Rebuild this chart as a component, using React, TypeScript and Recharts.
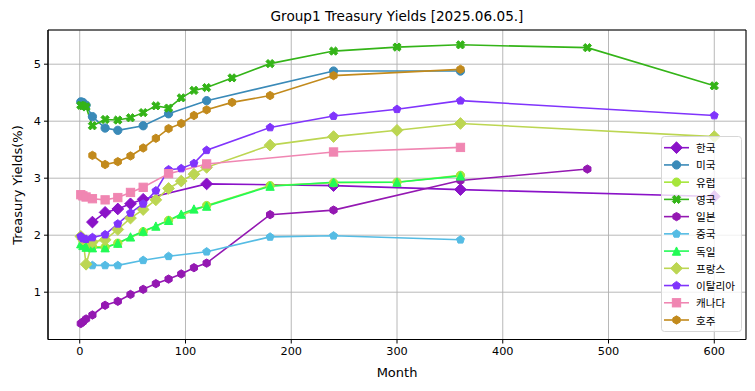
import React from "react"
import { LineChart, Line, XAxis, YAxis, CartesianGrid, ReferenceArea } from "recharts"

// tenor in months / yield in %
const KR_MONTHS = [12, 24, 36, 48, 60, 120, 240, 360, 600]
const KR_YIELDS = [2.23, 2.4, 2.46, 2.55, 2.63, 2.9, 2.87, 2.8, 2.68]

const US_MONTHS = [1, 3, 6, 12, 24, 36, 60, 84, 120, 240, 360]
const US_YIELDS = [4.34, 4.33, 4.28, 4.08, 3.88, 3.84, 3.92, 4.13, 4.36, 4.88, 4.88]

const EU_MONTHS = [3, 6, 12, 24, 36, 60, 84, 120, 180, 240, 300, 360]
const EU_YIELDS = [1.9, 1.84, 1.8, 1.79, 1.86, 2.06, 2.26, 2.52, 2.87, 2.92, 2.93, 3.05]

const UK_MONTHS = [1, 3, 6, 12, 24, 36, 48, 60, 72, 84, 96, 108, 120, 144, 180, 240, 300, 360, 480, 600]
const UK_YIELDS = [4.28, 4.27, 4.25, 3.92, 4.03, 4.02, 4.06, 4.15, 4.27, 4.23, 4.41, 4.54, 4.59, 4.76, 5.01, 5.23, 5.3, 5.34, 5.29, 4.62]

const JP_MONTHS = [1, 3, 6, 12, 24, 36, 48, 60, 72, 84, 96, 108, 120, 180, 240, 360, 480]
const JP_YIELDS = [0.45, 0.48, 0.53, 0.6, 0.77, 0.84, 0.96, 1.05, 1.15, 1.23, 1.32, 1.43, 1.51, 2.36, 2.44, 2.96, 3.16]

const CN_MONTHS = [12, 24, 36, 60, 84, 120, 180, 240, 360]
const CN_YIELDS = [1.47, 1.47, 1.47, 1.56, 1.63, 1.71, 1.97, 1.99, 1.92]

const DE_MONTHS = [1, 3, 6, 12, 24, 36, 48, 60, 72, 84, 96, 108, 120, 180, 240, 300, 360]
const DE_YIELDS = [1.85, 1.82, 1.79, 1.78, 1.78, 1.86, 1.97, 2.07, 2.16, 2.26, 2.37, 2.46, 2.51, 2.86, 2.93, 2.93, 3.04]

const FR_MONTHS = [1, 3, 6, 12, 24, 36, 48, 60, 72, 84, 96, 108, 120, 180, 240, 300, 360, 600]
const FR_YIELDS = [1.98, 1.93, 1.49, 1.88, 1.92, 2.1, 2.3, 2.45, 2.62, 2.82, 2.95, 3.07, 3.19, 3.58, 3.73, 3.84, 3.96, 3.73]

const IT_MONTHS = [1, 3, 6, 12, 24, 36, 48, 60, 72, 84, 96, 108, 120, 180, 240, 300, 360, 600]
const IT_YIELDS = [1.98, 1.94, 1.93, 1.96, 2.01, 2.2, 2.39, 2.55, 2.78, 3.15, 3.17, 3.26, 3.49, 3.89, 4.09, 4.21, 4.36, 4.1]

const CA_MONTHS = [1, 3, 6, 12, 24, 36, 48, 60, 84, 120, 240, 360]
const CA_YIELDS = [2.71, 2.69, 2.67, 2.64, 2.62, 2.66, 2.75, 2.84, 3.08, 3.25, 3.46, 3.54]

const AU_MONTHS = [12, 24, 36, 48, 60, 72, 84, 96, 108, 120, 144, 180, 240, 360]
const AU_YIELDS = [3.4, 3.24, 3.29, 3.39, 3.53, 3.7, 3.87, 3.96, 4.1, 4.2, 4.33, 4.45, 4.8, 4.91]

const X_TICKS = [0, 100, 200, 300, 400, 500, 600]
const Y_TICKS = [1, 2, 3, 4, 5]

type Shape = "D" | "o" | "X" | "h" | "p" | "^" | "s"

const SERIES: { name: string; color: string; shape: Shape; months: number[]; values: number[] }[] = [
  { name: "한국", color: "#8a12c8", shape: "D", months: KR_MONTHS, values: KR_YIELDS },
  { name: "미국", color: "#3a8ab8", shape: "o", months: US_MONTHS, values: US_YIELDS },
  { name: "유럽", color: "#a6e63a", shape: "o", months: EU_MONTHS, values: EU_YIELDS },
  { name: "영국", color: "#34b418", shape: "X", months: UK_MONTHS, values: UK_YIELDS },
  { name: "일본", color: "#9418b2", shape: "h", months: JP_MONTHS, values: JP_YIELDS },
  { name: "중국", color: "#55bce4", shape: "p", months: CN_MONTHS, values: CN_YIELDS },
  { name: "독일", color: "#22fb55", shape: "^", months: DE_MONTHS, values: DE_YIELDS },
  { name: "프랑스", color: "#bcd652", shape: "D", months: FR_MONTHS, values: FR_YIELDS },
  { name: "이탈리아", color: "#8034fc", shape: "p", months: IT_MONTHS, values: IT_YIELDS },
  { name: "캐나다", color: "#f086b2", shape: "s", months: CA_MONTHS, values: CA_YIELDS },
  { name: "호주", color: "#c28a1c", shape: "h", months: AU_MONTHS, values: AU_YIELDS },
]

const FONT = "'DejaVu Sans', sans-serif"
const MS = 8.3

function poly(cx: number, cy: number, r: number, n: number) {
  const pts: string[] = []
  for (let i = 0; i < n; i++) {
    const a = -Math.PI / 2 + (i * 2 * Math.PI) / n
    pts.push(`${cx + r * Math.cos(a)},${cy + r * Math.sin(a)}`)
  }
  return pts.join(" ")
}

function Marker({ shape, cx, cy, color }: { shape: Shape; cx: number; cy: number; color: string }) {
  const common = { fill: color, stroke: color, strokeWidth: 1 }
  if (cx == null || cy == null || isNaN(cx) || isNaN(cy)) return null
  switch (shape) {
    case "D": {
      const h = 0.707 * MS
      return <polygon {...common} points={`${cx},${cy - h} ${cx + h},${cy} ${cx},${cy + h} ${cx - h},${cy}`} />
    }
    case "o":
      return <circle {...common} cx={cx} cy={cy} r={MS / 2} />
    case "s":
      return <rect {...common} x={cx - MS / 2} y={cy - MS / 2} width={MS} height={MS} />
    case "^": {
      const r = MS / 2
      return <polygon {...common} points={`${cx},${cy - r} ${cx - r},${cy + r} ${cx + r},${cy + r}`} />
    }
    case "h":
      return <polygon {...common} points={poly(cx, cy, MS / 2, 6)} />
    case "p":
      return <polygon {...common} points={poly(cx, cy, MS / 2, 5)} />
    case "X": {
      const k = MS
      const raw = [
        [-0.25, -0.5], [0, -0.25], [0.25, -0.5], [0.5, -0.25], [0.25, 0], [0.5, 0.25],
        [0.25, 0.5], [0, 0.25], [-0.25, 0.5], [-0.5, 0.25], [-0.25, 0], [-0.5, -0.25],
      ]
      return <polygon {...common} points={raw.map(([a, b]) => `${cx + a * k},${cy + b * k}`).join(" ")} />
    }
  }
  return null
}

function ChartLegend() {
  const rowH = 17.23
  return (
    <svg width={82} height={197} style={{ position: "absolute", left: 661, top: 136, overflow: "visible" }}>
      <rect x={0.5} y={0.5} width={80} height={195} rx={3} fill="rgba(255,255,255,0.8)" stroke="#d6d6d6" />
      {SERIES.map((s, i) => {
        const y = 11.7 + i * rowH
        return (
          <g key={s.name}>
            <line x1={3} x2={28} y1={y} y2={y} stroke={s.color} strokeWidth={1.6} />
            <Marker shape={s.shape} cx={15.5} cy={y} color={s.color} />
            <text x={35} y={y} dominantBaseline="central" fontSize={10.6} fill="#000" fontFamily="'Noto Sans CJK KR', sans-serif">
              {s.name}
            </text>
          </g>
        )
      })}
    </svg>
  )
}

export default function App() {
  const tick = { fill: "#000", fontSize: 11.3, fontFamily: FONT }
  return (
    <div style={{ position: "absolute", left: 0, top: 0, width: 755, height: 391, background: "#fff" }}>
      <LineChart width={755} height={391} margin={{ top: 30, right: 9, bottom: 0, left: 0 }}>
        <CartesianGrid stroke="#b0b0b0" strokeWidth={0.9} />
        <XAxis
          dataKey="x"
          type="number"
          domain={[-30, 630]}
          ticks={X_TICKS}
          allowDataOverflow
          height={51.5}
          tickSize={4}
          tickMargin={3}
          stroke="#000"
          tick={tick}
        />
        <YAxis
          type="number"
          domain={[0.17, 5.6]}
          ticks={Y_TICKS}
          allowDataOverflow
          width={48}
          tickSize={4}
          tickMargin={3}
          stroke="#000"
          tick={tick}
        />
        <ReferenceArea x1={-30} x2={630} y1={0.17} y2={5.6} fill="none" stroke="#000" strokeWidth={1} ifOverflow="visible" />
        {SERIES.map((s) => (
          <Line
            key={s.name}
            name={s.name}
            data={s.months.map((m, i) => ({ x: m, y: s.values[i] }))}
            dataKey="y"
            type="linear"
            stroke={s.color}
            strokeWidth={1.6}
            isAnimationActive={false}
            activeDot={false}
            dot={(p: any) => <Marker key={`${s.name}-${p.index}`} shape={s.shape} cx={p.cx} cy={p.cy} color={s.color} />}
          />
        ))}
      </LineChart>
      <div style={{ position: "absolute", left: 48, width: 698, top: 8, textAlign: "center", fontFamily: FONT, fontSize: 13.6, color: "#000" }}>
        Group1 Treasury Yields [2025.06.05.]
      </div>
      <div style={{ position: "absolute", left: 48, width: 698, top: 365, textAlign: "center", fontFamily: FONT, fontSize: 13, color: "#000" }}>
        Month
      </div>
      <div
        style={{
          position: "absolute",
          left: 17,
          top: 185,
          transform: "translate(-50%, -50%) rotate(-90deg)",
          whiteSpace: "nowrap",
          fontFamily: FONT,
          fontSize: 13,
          color: "#000",
        }}
      >
        Treasury Yields(%)
      </div>
      <ChartLegend />
    </div>
  )
}
